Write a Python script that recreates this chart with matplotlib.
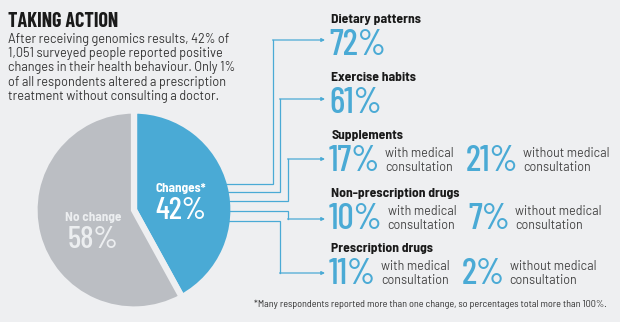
import matplotlib.pyplot as plt
import numpy as np

# data
pie_labels = ["Changes*", "No change"]
pie_values = [42, 58]

categories = ["Dietary patterns", "Exercise habits", "Supplements",
              "Non-prescription drugs", "Prescription drugs"]
with_medical = [72, 61, 17, 10, 11]
without_medical = [None, None, 21, 7, 2]

title = "TAKING ACTION"
intro = ["After receiving genomics results, 42% of",
         "1,051 surveyed people reported positive",
         "changes in their health behaviour. Only 1%",
         "of all respondents altered a prescription",
         "treatment without consulting a doctor."]
footnote = "*Many respondents reported more than one change, so percentages total more than 100%."

BG = "#eeeff1"
BLUE = "#4aaad5"
GREY = "#bbbec3"
W, H = 620, 322

COND = ["Barlow Condensed", "Liberation Sans"]
SEMI = ["Barlow Semi Condensed", "Liberation Sans"]
SANS = ["Barlow", "Liberation Sans"]

fig = plt.figure(figsize=(W / 100, H / 100), dpi=100, facecolor=BG)
ax = fig.add_axes([0, 0, 1, 1])
ax.set_xlim(0, W)
ax.set_ylim(H, 0)
ax.axis("off")
ax.set_zorder(3)

# header
ax.text(8, 27, title, family=COND, weight="bold", fontsize=14.5, color="#1a1a1a")
for i, line in enumerate(intro):
    ax.text(8, 42.7 + i * 14.3, line, family=SANS, fontsize=9.1, color="#333333")

# pie
cx, cy, R = 134, 210, 105
pax = fig.add_axes([(cx - R) / W, 1 - (cy + R) / H, 2 * R / W, 2 * R / H])
pax.pie(pie_values, colors=[BLUE, GREY], startangle=90, counterclock=False,
        radius=99.5 / R, wedgeprops=dict(edgecolor=BG, linewidth=4.5))
pax.set_xlim(-1, 1)
pax.set_ylim(-1, 1)
pax.axis("off")

ax.text(181, 192, pie_labels[0], family=SEMI, weight="bold", fontsize=9.5,
        color="white", ha="center")
ax.text(181, 219, f"{pie_values[0]}%", family=COND, weight=500, fontsize=22.5,
        color="white", ha="center")
ax.text(93, 221, pie_labels[1], family=SEMI, weight="bold", fontsize=9.5,
        color="#eceef0", ha="center")
ax.text(93, 248, f"{pie_values[1]}%", family=COND, weight=500, fontsize=22.5,
        color="#eceef0", ha="center")

# connectors
r_vis = 96.5
tap_y = [184, 192, 201, 211, 221]
bend_x = [273, 280, 288, 288, 280]
target_y = [40, 99, 159, 219, 273]
for ty, bx, gy in zip(tap_y, bend_x, target_y):
    x0 = cx + np.sqrt(r_vis ** 2 - (ty - cy) ** 2) - 2
    ax.plot([x0, bx, bx], [ty, ty, gy], color=BLUE, lw=0.9,
            solid_joinstyle="miter", zorder=1)
    ax.annotate("", xy=(325, gy), xytext=(bx - 0.45, gy),
                arrowprops=dict(arrowstyle="-|>", color=BLUE, lw=0.9,
                                mutation_scale=5, shrinkA=0, shrinkB=0))

# right-hand figures
num_base = [55, 113, 171, 229, 284]
fig.canvas.draw()
renderer = fig.canvas.get_renderer()
inv = ax.transData.inverted()


def right_edge(t):
    bb = t.get_window_extent(renderer)
    return inv.transform((bb.x1, bb.y0))[0]


for cat, w, wo, nb in zip(categories, with_medical, without_medical, num_base):
    ax.text(331, nb - 32, cat, family=SEMI, weight="bold", fontsize=9.8,
            color="#1a1a1a")
    t = ax.text(329, nb, f"{w}%", family=COND, weight=500, fontsize=26, color=BLUE)
    if wo is None:
        continue
    x = right_edge(t) + 5
    a = ax.text(x, nb - 14.5, "with medical", family=SANS, fontsize=9, color="#444444")
    b = ax.text(x, nb, "consultation", family=SANS, fontsize=9, color="#444444")
    x = max(right_edge(a), right_edge(b)) + 12
    t2 = ax.text(x, nb, f"{wo}%", family=COND, weight=500, fontsize=26, color=BLUE)
    x = right_edge(t2) + 5
    ax.text(x, nb - 14.5, "without medical", family=SANS, fontsize=9, color="#444444")
    ax.text(x, nb, "consultation", family=SANS, fontsize=9, color="#444444")

ax.text(607, 307, footnote, family=SEMI, fontsize=7.3, color="#333333", ha="right")

fig.savefig("out.png", dpi=100, facecolor=BG)
